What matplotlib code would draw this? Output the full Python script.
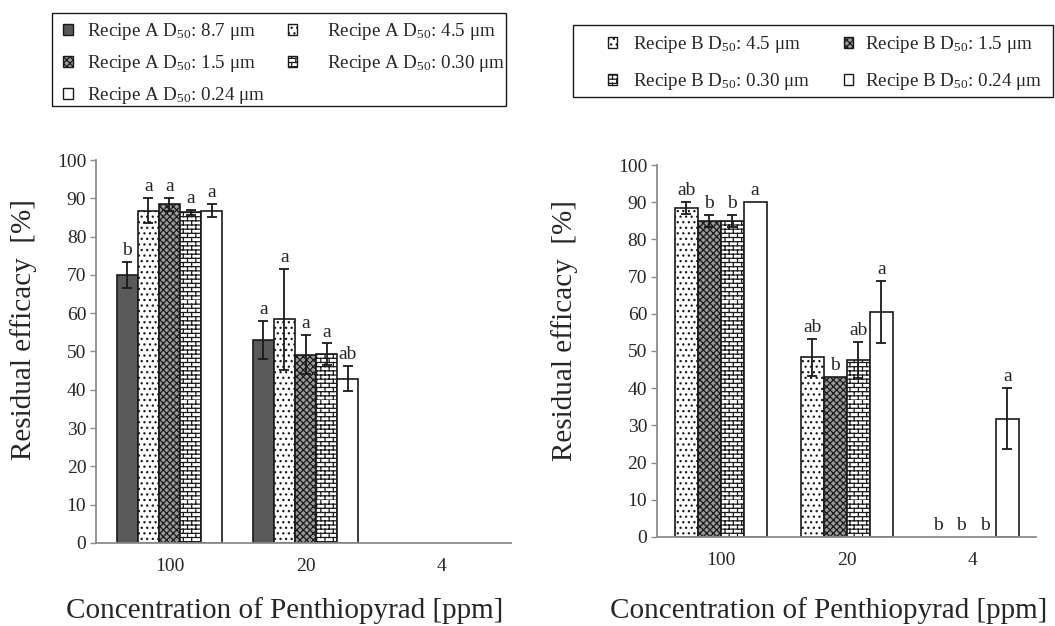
# -*- coding: utf-8 -*
'''
Residual efficacy of Penthiopyrad formulations (Recipe A / Recipe B)
bar chart with error bars and significance letters
'''
import numpy as np
import matplotlib
matplotlib.use('Agg')
import matplotlib.pyplot as plt
import matplotlib.hatch as mhatch
from matplotlib.patches import Patch, Rectangle

plt.rcParams['font.family'] = ['Liberation Serif', 'DejaVu Serif']
plt.rcParams['mathtext.fontset'] = 'custom'
plt.rcParams['mathtext.rm'] = 'Liberation Serif'
plt.rcParams['mathtext.it'] = 'Liberation Serif:italic'
plt.rcParams['hatch.linewidth'] = 0.9


# 砖墙填充：用 '-' 画错缝砖纹（替换原来的水平线填充）
class BrickHatch(mhatch.HatchPatternBase):
    def __init__(self, hatch, density):
        self.num_rows = (hatch.count('-')) * density
        self.num_cols = self.num_rows // 2
        self.num_vertices = 2 * self.num_rows * (1 + self.num_cols)

    def set_vertices_and_codes(self, vertices, codes):
        h = 1.0 / self.num_rows
        w = 1.0 / self.num_cols
        k = 0
        for i in range(self.num_rows):
            y = i * h
            vertices[k] = (0.0, y)
            vertices[k + 1] = (1.0, y)
            codes[k] = mhatch.Path.MOVETO
            codes[k + 1] = mhatch.Path.LINETO
            k += 2
            off = 0.5 * w if i % 2 else 0.0
            for j in range(self.num_cols):
                x = j * w + off
                vertices[k] = (x, y)
                vertices[k + 1] = (x, y + h)
                codes[k] = mhatch.Path.MOVETO
                codes[k + 1] = mhatch.Path.LINETO
                k += 2


mhatch._hatch_types[mhatch._hatch_types.index(mhatch.HorizontalHatch)] = BrickHatch

#数据
conc_labels = ['100', '20', '4']

a_sizes = ['8.7', '4.5', '1.5', '0.30', '0.24']
a_mean = [[70.0, 53.0, np.nan],
          [86.8, 58.4, np.nan],
          [88.4, 49.2, np.nan],
          [86.3, 49.3, np.nan],
          [86.8, 42.9, np.nan]]
a_err = [[3.3, 5.0, np.nan],
         [3.2, 13.2, np.nan],
         [1.7, 5.0, np.nan],
         [0.6, 2.8, np.nan],
         [1.6, 3.3, np.nan]]
a_letters = [['b', 'a', ''],
             ['a', 'a', ''],
             ['a', 'a', ''],
             ['a', 'a', ''],
             ['a', 'ab', '']]

b_sizes = ['4.5', '1.5', '0.30', '0.24']
b_mean = [[88.4, 48.3, 0.0],
          [84.9, 42.9, 0.0],
          [84.9, 47.5, 0.0],
          [90.0, 60.4, 31.8]]
b_err = [[1.7, 5.0, 0.0],
         [1.6, 0.0, 0.0],
         [1.6, 4.8, 0.0],
         [0.0, 8.3, 8.2]]
b_letters = [['ab', 'ab', 'b'],
             ['b', 'b', 'b'],
             ['b', 'ab', 'b'],
             ['a', 'a', 'a']]

#各粒径的填充样式
styles = {'8.7': dict(facecolor='#595959', hatch=None),
          '4.5': dict(facecolor='white', hatch='...'),
          '1.5': dict(facecolor='#9a9a9a', hatch='xxxxx'),
          '0.30': dict(facecolor='white', hatch='----'),
          '0.24': dict(facecolor='white', hatch=None)}

AXIS_GRAY = '#8c8c8c'
TEXT_GRAY = '#262626'
FS_TICK = 14
FS_LABEL = 21
FS_LEG = 13.7


def draw_panel(ax, sizes, means, errs, letters, width, xlim):
    x = np.arange(len(conc_labels))
    n = len(sizes)
    for i, size in enumerate(sizes):
        pos = x + (i - (n - 1) / 2.0) * width
        m = np.array(means[i], dtype=float)
        e = np.array(errs[i], dtype=float)
        ok = np.isfinite(m) & (m > 0)
        ax.bar(pos[ok], m[ok], width, edgecolor='#1a1a1a', linewidth=1.2,
               zorder=2, **styles[size])
        has_err = ok & (e > 0)
        ax.errorbar(pos[has_err], m[has_err], yerr=e[has_err], fmt='none',
                    ecolor='#1a1a1a', elinewidth=1.3, capsize=3.5,
                    capthick=1.3, zorder=3)
        for j in range(len(conc_labels)):
            if not letters[i][j]:
                continue
            top = m[j] + (e[j] if np.isfinite(e[j]) else 0)
            ax.annotate(letters[i][j], (pos[j], top), xytext=(0, 5),
                        textcoords='offset points', ha='center',
                        va='baseline', fontsize=FS_TICK, color=TEXT_GRAY)

    ax.set_xlim(*xlim)
    ax.set_ylim(0, 100)
    ax.set_yticks(np.arange(0, 101, 10))
    ax.set_xticks(x)
    ax.set_xticklabels(conc_labels)
    for s in ['top', 'right']:
        ax.spines[s].set_visible(False)
    for s in ['left', 'bottom']:
        ax.spines[s].set_color(AXIS_GRAY)
        ax.spines[s].set_linewidth(1.3)
    ax.tick_params(axis='y', direction='out', length=4, width=1,
                   color=AXIS_GRAY, labelsize=FS_TICK, labelcolor=TEXT_GRAY,
                   pad=3)
    ax.tick_params(axis='x', length=0, labelsize=FS_TICK,
                   labelcolor=TEXT_GRAY, pad=11)
    ax.set_ylabel('Residual efficacy  [%]', fontsize=FS_LABEL, color=TEXT_GRAY)
    ax.set_xlabel('Concentration of Penthiopyrad [ppm]', fontsize=FS_LABEL,
                  color=TEXT_GRAY, va='top')


def legend_handle(recipe, size):
    return Patch(edgecolor='#1a1a1a', linewidth=1.0, **styles[size],
                 label=r'Recipe %s $\mathrm{D_{50}}$: %s μm' % (recipe, size))


def legend_column(fig, recipe, sizes, x_px, top_px, textpad, spacing):
    hs = [legend_handle(recipe, s) for s in sizes]
    leg = fig.legend(hs, [h.get_label() for h in hs], loc='upper left',
                     bbox_to_anchor=(x_px / 1055.0, 1 - top_px / 626.0),
                     fontsize=FS_LEG, frameon=False, handlelength=0.5,
                     handleheight=0.5, handletextpad=textpad,
                     labelspacing=spacing, borderaxespad=0, borderpad=0)
    for t in leg.get_texts():
        t.set_color(TEXT_GRAY)
    return leg


def legend_box(fig, x0, y0, x1, y1):
    fig.add_artist(Rectangle((x0 / 1055.0, 1 - y1 / 626.0),
                             (x1 - x0) / 1055.0, (y1 - y0) / 626.0,
                             transform=fig.transFigure, fill=False,
                             edgecolor='#1a1a1a', linewidth=1.0))


fig = plt.figure(figsize=(10.55, 6.26), dpi=100)

ax_a = fig.add_axes([0.091, 0.1326, 0.3934, 0.6118])
draw_panel(ax_a, a_sizes, a_mean, a_err, a_letters, 0.155, (-0.54, 2.51))
ax_a.yaxis.set_label_coords(-0.142, 0.556)
ax_a.xaxis.set_label_coords(0.455, -0.141)

ax_b = fig.add_axes([0.6227, 0.1422, 0.3593, 0.5942])
draw_panel(ax_b, b_sizes, b_mean, b_err, b_letters, 0.1825, (-0.505, 2.5))
ax_b.yaxis.set_label_coords(-0.208, 0.556)
ax_b.xaxis.set_label_coords(0.454, -0.161)

#图例（按行排列，两列分开放）
legend_column(fig, 'A', ['8.7', '1.5', '0.24'], 63, 21, 0.75, 0.58)
legend_column(fig, 'A', ['4.5', '0.30'], 287.5, 21, 1.6, 0.58)
legend_box(fig, 52, 12.7, 506, 106)

legend_column(fig, 'B', ['4.5', '0.30'], 607.5, 34, 0.85, 0.85)
legend_column(fig, 'B', ['1.5', '0.24'], 843.5, 34, 0.65, 0.85)
legend_box(fig, 573, 25, 1053, 97)

plt.savefig('out.png', dpi=100)
